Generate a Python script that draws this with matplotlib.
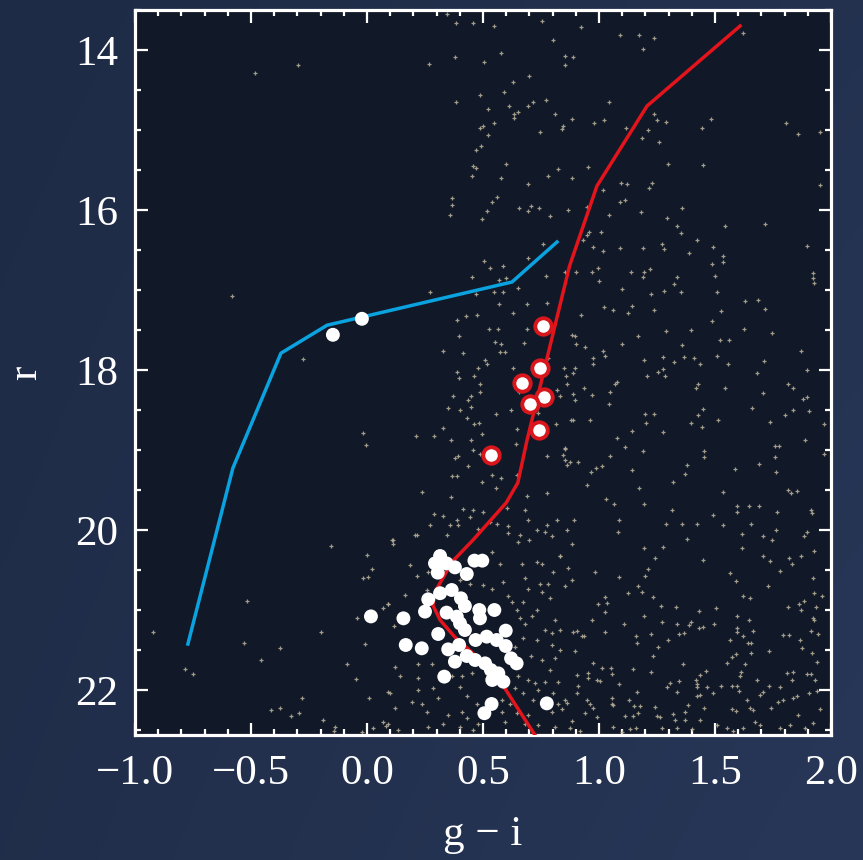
import numpy as np
import matplotlib
matplotlib.use("Agg")
import matplotlib.pyplot as plt
from matplotlib.ticker import MultipleLocator

# ---------------------------------------------------------------- data
# model isochrone (red giant branch + main-sequence turnoff)
iso_gi = [1.608, 1.207, 0.991, 0.873, 0.690, 0.650, 0.600, 0.457, 0.366,
          0.293, 0.284, 0.315, 0.379, 0.552, 0.750]
iso_r = [13.70, 14.70, 15.70, 16.70, 18.875, 19.41, 19.66, 20.125, 20.40,
         20.775, 20.94, 21.125, 21.34, 21.79, 22.68]

# horizontal-branch ridge line
hb_gi = [-0.772, -0.578, -0.371, -0.172, 0.625, 0.819]
hb_r = [21.425, 19.225, 17.79, 17.44, 16.90, 16.40]

# candidate horizontal-branch members
hb_star_gi = [-0.147, -0.022]
hb_star_r = [17.56, 17.36]

# spectroscopic red-giant members
rgb_gi = [0.759, 0.746, 0.668, 0.763, 0.703, 0.741, 0.534]
rgb_r = [17.45, 17.975, 18.16, 18.34, 18.43, 18.75, 19.06]

# photometric members near the turnoff
ms_gi = [0.315, 0.293, 0.343, 0.379, 0.305, 0.430, 0.463, 0.497, 0.264, 0.315,
         0.365, 0.405, 0.422, 0.343, 0.387, 0.250, 0.401, 0.484, 0.487, 0.549,
         0.157, 0.307, 0.422, 0.468, 0.516, 0.559, 0.598, 0.598, 0.167, 0.236,
         0.350, 0.397, 0.430, 0.379, 0.466, 0.509, 0.534, 0.621, 0.645, 0.333,
         0.540, 0.588, 0.566, 0.537, 0.506, 0.775, 0.017]
ms_r = [20.325, 20.417, 20.417, 20.467, 20.533, 20.55, 20.383, 20.383, 20.867, 20.79,
        20.75, 20.854, 20.95, 21.033, 21.083, 21.02, 21.167, 21.0, 21.104, 21.0,
        21.104, 21.3, 21.25, 21.375, 21.333, 21.375, 21.258, 21.45, 21.4375, 21.479,
        21.492, 21.4375, 21.575, 21.646, 21.625, 21.667, 21.75, 21.604, 21.667, 21.833,
        21.875, 21.896, 21.792, 22.175, 22.29, 22.167, 21.08]

# field stars (g-i, r)
field_stars = [
    # blue side
    (-0.483, 14.29), (-0.297, 14.19), (-0.582, 17.075), (-0.276, 17.86), (-0.017, 18.79),
    (-0.004, 18.94), (-0.924, 21.27), (-0.783, 21.74), (-0.749, 21.80), (-0.518, 20.89),
    (-0.529, 21.41), (-0.457, 21.63), (-0.375, 21.47), (-0.414, 22.25), (-0.375, 22.22),
    (-0.328, 22.33), (-0.292, 22.29), (-0.280, 22.10), (-0.189, 22.38), (-0.199, 21.28),
    (-0.155, 20.20), (0.000, 20.31), (0.021, 20.49), (-0.016, 20.60), (0.005, 20.59),
    (-0.041, 21.10), (-0.007, 21.43), (-0.088, 21.68), (-0.048, 21.86), (0.010, 22.10),
    (0.067, 20.98), (0.089, 20.93), (0.113, 20.12), (0.113, 20.17), (0.118, 21.20),
    (0.089, 22.03), (0.067, 22.40), (0.082, 22.45), (-0.137, 22.46), (0.024, 22.47),
    (-0.141, 22.51), (-0.023, 22.52),
    # bright, middle colours
    (0.343, 13.55), (0.384, 13.66), (0.458, 13.66), (0.549, 13.70), (0.756, 13.64),
    (0.922, 13.71), (1.090, 13.81), (0.803, 13.875), (0.269, 14.175), (0.379, 14.09),
    (0.504, 14.15), (0.576, 14.04), (0.853, 14.08), (0.886, 14.09), (0.853, 14.19),
    (0.628, 14.40), (0.700, 14.325), (0.384, 14.65), (0.487, 14.56), (0.592, 14.52),
    (0.523, 14.74), (0.613, 14.70), (0.693, 14.70), (0.714, 14.65), (0.770, 14.63),
    (0.635, 14.80), (0.649, 14.78), (0.634, 14.85), (0.810, 14.80), (0.885, 14.86),
    (1.043, 14.65), (0.980, 14.91), (1.023, 14.88), (0.487, 14.98), (0.501, 14.95),
    (0.549, 14.91), (0.520, 15.06), (0.843, 14.95), (0.839, 14.99), (0.746, 15.03),
    (1.116, 14.98), (0.470, 15.25), (0.490, 15.20), (0.598, 15.425), (0.455, 15.45),
    (0.470, 15.48), (0.453, 15.58), (0.576, 15.60), (0.692, 15.67), (0.782, 15.58),
    (0.825, 15.49), (0.882, 15.60), (0.954, 15.46), (1.093, 15.66), (1.119, 15.67),
    (0.365, 15.85), (0.365, 15.94), (0.358, 16.06), (0.537, 15.90), (0.562, 15.84),
    (0.519, 16.01), (0.494, 16.11), (0.657, 15.97), (0.705, 15.95), (0.692, 16.01),
    (0.743, 15.97), (0.789, 16.075), (0.868, 16.00), (0.947, 15.96), (1.016, 15.75),
    (1.090, 15.90), (1.112, 15.875), (1.044, 16.06), (0.757, 16.425), (0.695, 16.60),
    (0.506, 16.64), (0.530, 16.72), (0.585, 16.70), (0.454, 16.84), (0.569, 16.88),
    (0.599, 16.85), (0.770, 16.82), (0.853, 16.77), (0.649, 16.98), (0.549, 17.02),
    (0.588, 17.03), (0.468, 17.05), (0.271, 17.02), (0.959, 16.27),
    # bright, red colours
    (1.174, 13.81), (1.237, 13.85), (1.188, 13.99), (1.619, 13.79), (1.237, 14.80),
    (1.251, 14.88), (1.289, 14.895), (1.213, 15.00), (1.187, 15.10), (1.260, 15.15),
    (1.481, 14.86), (1.442, 14.97), (1.805, 14.91), (1.859, 15.05), (1.952, 15.02),
    (1.299, 15.425), (1.450, 15.44), (1.227, 15.66), (1.217, 15.72), (1.952, 15.69),
    (1.179, 16.03), (1.359, 15.98), (1.294, 16.10), (1.335, 16.20), (1.543, 16.20),
    (1.715, 16.18),
    (0.947, 16.31), (1.009, 16.28), (1.354, 16.29), (1.424, 16.38), (0.930, 16.375),
    (0.973, 16.46), (1.016, 16.51), (1.091, 16.48), (1.191, 16.47), (1.270, 16.42),
    (1.282, 16.49), (1.389, 16.54), (1.490, 16.46), (1.533, 16.57), (1.533, 16.65),
    (1.895, 16.45), (0.901, 16.78), (0.971, 16.77), (0.997, 16.73), (1.000, 16.89),
    (1.138, 16.78), (1.194, 16.78), (1.188, 16.84), (1.220, 16.74), (1.338, 16.84),
    (1.489, 16.68), (1.500, 16.82), (1.924, 16.79), (1.924, 16.85), (1.927, 16.91),
    (1.098, 16.99), (1.224, 17.05), (1.282, 17.01), (1.325, 16.93), (1.352, 17.03),
    (1.507, 17.03), (1.629, 17.14), (1.687, 17.125), (1.716, 17.24), (0.923, 17.31),
    (1.023, 17.21), (1.062, 17.25), (1.127, 17.29), (1.144, 17.20), (1.239, 17.25),
    (1.486, 17.39), (1.526, 17.26), (1.627, 17.49), (1.747, 17.54), (0.897, 17.575),
    (0.900, 17.68), (0.940, 17.71), (1.098, 17.675), (1.167, 17.57), (1.289, 17.51),
    (1.397, 17.50), (1.356, 17.69), (1.522, 17.625), (1.562, 17.625), (1.019, 17.76),
    (1.026, 17.825), (0.973, 17.85), (0.976, 17.93), (1.195, 17.88), (1.275, 17.84),
    (1.323, 17.90), (1.368, 17.84), (1.410, 17.85), (1.435, 17.93), (1.510, 17.82),
    (1.558, 17.92), (1.711, 17.89), (1.869, 17.76), (0.898, 17.98), (0.856, 18.07),
    (1.069, 18.17), (1.079, 18.15), (1.206, 18.07), (1.256, 18.03), (1.277, 17.99),
    (1.286, 18.075), (1.428, 18.17), (1.418, 18.22), (1.543, 18.22), (1.683, 18.04),
    (1.816, 18.18), (1.838, 18.22), (1.898, 18.00), (0.935, 18.22), (0.889, 18.30),
    (0.968, 18.31), (1.048, 18.27), (1.045, 18.42), (1.708, 18.29), (1.878, 18.36),
    (1.895, 18.34), (0.878, 18.63), (0.961, 18.625), (1.198, 18.55), (1.237, 18.55),
    (1.203, 18.66), (1.425, 18.56), (1.450, 18.49), (1.395, 18.66), (1.445, 18.71),
    (1.514, 18.63), (1.658, 18.47), (1.737, 18.65), (1.802, 18.56), (1.835, 18.50),
    (1.907, 18.51), (1.079, 18.85), (1.112, 18.96), (1.141, 18.76), (1.275, 18.77),
    (1.188, 19.01), (1.454, 19.01), (1.454, 19.09), (1.759, 18.95), (1.775, 18.95),
    (1.759, 19.09), (1.888, 18.87), (1.970, 18.67), (1.970, 19.05), (0.854, 18.99),
    (0.854, 19.125), (0.864, 19.19), (0.911, 19.15), (1.048, 19.08), (0.966, 19.27),
    (0.986, 19.22), (1.012, 19.20), (1.141, 19.25), (1.378, 19.19), (1.371, 19.30),
    (1.586, 19.24), (1.690, 19.18), (1.763, 19.28),
    # around the giant branch
    (0.569, 17.17), (0.688, 17.17), (0.774, 17.16), (0.386, 17.38), (0.427, 17.33),
    (0.473, 17.31), (0.631, 17.29), (0.527, 17.49), (0.566, 17.49), (0.688, 17.49),
    (0.552, 17.65), (0.576, 17.67), (0.573, 17.78), (0.595, 17.77), (0.678, 17.66),
    (0.398, 17.58), (0.329, 17.76), (0.412, 17.79), (0.509, 17.875), (0.516, 17.92),
    (0.480, 17.98), (0.386, 18.03), (0.397, 18.10), (0.463, 18.075), (0.487, 18.17),
    (0.447, 18.33), (0.437, 18.375), (0.447, 18.46), (0.372, 18.33), (0.348, 18.48),
    (0.401, 18.50), (0.487, 18.28), (0.432, 18.60), (0.463, 18.67), (0.481, 18.66),
    (0.556, 18.55), (0.619, 18.50), (0.645, 18.74), (0.736, 18.54), (0.817, 18.25),
    (0.832, 18.33), (0.861, 18.17), (0.897, 18.375), (0.886, 18.04), (0.882, 17.56),
    (0.782, 17.85), (0.849, 17.98), (0.631, 17.98), (0.657, 18.27), (0.326, 18.72),
    (0.211, 18.83), (0.290, 18.83), (0.362, 18.875), (0.447, 18.87), (0.496, 18.80),
    (0.391, 19.075), (0.379, 19.10), (0.458, 19.00), (0.487, 19.05), (0.642, 18.925),
    (0.853, 18.98), (0.815, 18.675), (0.889, 18.625), (0.875, 19.145), (0.846, 19.06),
    (0.774, 19.08), (0.389, 19.33), (0.365, 19.33), (0.437, 19.195), (0.497, 19.40),
    (0.537, 19.31), (0.576, 19.35), (0.556, 19.48), (0.645, 19.31), (0.774, 19.54),
    (0.236, 19.53), (0.361, 19.59), (0.688, 19.58),
    (0.290, 19.80), (0.329, 19.83), (0.386, 19.875), (0.444, 19.84), (0.415, 19.74),
    (0.458, 19.75), (0.498, 19.77), (0.271, 19.94), (0.358, 19.94), (0.394, 19.94),
    (0.480, 19.99), (0.530, 19.90), (0.559, 19.92), (0.602, 19.73), (0.681, 19.75),
    (0.695, 19.875), (0.609, 19.95), (0.659, 20.06), (0.731, 20.00), (0.774, 19.94),
    (0.767, 20.02), (0.817, 19.875), (0.796, 20.08), (0.860, 20.00), (0.343, 20.06),
    (0.214, 20.06),
    # turnoff region
    (0.106, 20.125), (0.207, 20.06), (0.609, 20.04), (0.652, 20.15), (0.698, 20.125),
    (0.832, 20.33), (0.731, 20.40), (0.753, 20.42), (0.667, 20.42), (0.573, 20.42),
    (0.537, 20.28), (0.803, 20.52), (0.185, 20.44), (0.264, 20.52), (0.257, 20.75),
    (0.214, 20.58), (0.401, 20.625), (0.444, 20.67), (0.501, 20.69), (0.537, 20.74),
    (0.588, 20.65), (0.681, 20.60), (0.746, 20.67), (0.782, 20.675), (0.695, 20.74),
    (0.753, 20.77), (0.609, 20.83), (0.624, 20.90), (0.674, 20.90), (0.789, 20.85),
    (0.092, 20.92), (0.164, 20.81), (0.645, 21.00), (0.731, 21.00), (0.660, 21.10),
    (0.710, 21.08), (0.681, 21.17), (0.810, 21.125), (0.767, 21.25), (0.796, 21.29),
    (0.832, 21.25), (0.731, 21.375), (0.674, 21.35), (0.638, 21.46), (0.796, 21.44),
    (0.832, 21.50), (0.707, 21.58), (0.753, 21.625), (0.810, 21.60), (0.121, 21.71),
    (0.221, 21.67), (0.279, 21.67), (0.789, 21.75), (0.142, 21.83), (0.221, 21.85),
    (0.365, 21.83), (0.408, 21.83), (0.451, 21.79), (0.652, 21.83), (0.695, 21.875),
    (0.724, 21.91), (0.767, 21.90), (0.825, 21.90), (0.221, 22.00), (0.286, 21.98),
    (0.401, 21.96), (0.638, 21.98), (0.674, 22.04), (0.739, 22.00), (0.803, 22.04),
    (0.099, 22.04), (0.307, 22.10), (0.430, 22.08), (0.473, 22.17), (0.580, 22.125),
    (0.616, 22.17), (0.717, 22.125), (0.825, 22.17), (0.193, 22.15), (0.236, 22.17),
    (0.121, 22.23), (0.257, 22.27), (0.351, 22.31), (0.408, 22.27), (0.430, 22.35),
    (0.580, 22.27), (0.645, 22.29), (0.695, 22.31), (0.796, 22.28), (0.092, 22.42),
    (0.135, 22.50), (0.264, 22.46), (0.329, 22.42), (0.401, 22.46), (0.480, 22.42),
    (0.458, 22.50), (0.595, 22.40), (0.681, 22.42), (0.739, 22.44), (0.810, 22.46),
    # faint, red colours
    (0.947, 19.44), (1.172, 19.47), (1.318, 19.40), (1.536, 19.53), (1.816, 19.50),
    (1.852, 19.51), (1.826, 19.54), (1.029, 19.61), (1.066, 19.68), (1.194, 19.67),
    (1.315, 19.75), (1.593, 19.70), (1.593, 19.77), (1.647, 19.70), (1.690, 19.70),
    (1.769, 19.78), (1.912, 19.75), (1.920, 19.79), (0.894, 19.88), (1.088, 19.87),
    (1.289, 19.92), (1.359, 19.92), (1.424, 19.92), (1.490, 19.81), (1.536, 19.94),
    (1.654, 19.93), (1.083, 20.03), (1.615, 20.05), (1.763, 20.00), (1.895, 20.03),
    (1.885, 20.08), (1.381, 20.11), (1.708, 20.08), (1.746, 20.12), (0.882, 20.17),
    (1.194, 20.23), (1.275, 20.21), (1.615, 20.22), (1.928, 20.26), (1.241, 20.35),
    (1.447, 20.38), (1.708, 20.33), (1.737, 20.39), (1.819, 20.35), (1.833, 20.43),
    (1.871, 20.32), (0.832, 20.33), (0.868, 20.47), (0.983, 20.52), (1.213, 20.49),
    (1.780, 20.51), (1.565, 20.54), (1.198, 20.575), (1.088, 20.59), (1.921, 20.60),
    (0.882, 20.63), (0.852, 20.70), (1.167, 20.70), (1.589, 20.64), (1.727, 20.70),
    (1.124, 20.79), (1.184, 20.78), (1.234, 20.84), (1.027, 20.84), (0.994, 20.93),
    (1.035, 20.91), (1.269, 20.95), (1.333, 20.96), (1.503, 20.97), (1.619, 20.82),
    (1.651, 20.85), (1.816, 20.96), (1.864, 20.93), (1.884, 20.89), (1.927, 20.79),
    (1.960, 20.83), (1.871, 21.00), (1.934, 20.96), (1.433, 21.01), (1.027, 21.02),
    (0.971, 21.12), (1.109, 21.17), (1.196, 21.08), (1.273, 21.15), (1.335, 21.18),
    (1.395, 21.15), (1.389, 21.19), (1.430, 21.22), (1.447, 21.21), (1.497, 21.18),
    (1.593, 21.08), (1.648, 21.12), (1.924, 21.10), (1.928, 21.125), (0.889, 21.28),
    (0.907, 21.26), (0.935, 21.325), (0.925, 21.33), (1.027, 21.27), (1.160, 21.325),
    (1.224, 21.30), (1.346, 21.305), (1.366, 21.29), (1.593, 21.23), (1.596, 21.28),
    (1.619, 21.33), (1.662, 21.26), (1.792, 21.31), (1.818, 21.31), (1.912, 21.26),
    (1.945, 21.30), (1.299, 21.38), (1.165, 21.41), (1.256, 21.46), (1.565, 21.375),
    (1.641, 21.41), (1.654, 21.41), (1.867, 21.375), (0.895, 21.51), (1.234, 21.58),
    (1.364, 21.67), (1.591, 21.55), (1.550, 21.66), (1.629, 21.67), (1.572, 21.59),
    (1.654, 21.54), (1.734, 21.51), (1.877, 21.48), (1.920, 21.54), (1.938, 21.65),
    (0.976, 21.66), (1.012, 21.73), (1.050, 21.72), (1.145, 21.74), (1.226, 21.77),
    (0.904, 21.81), (0.951, 21.79), (0.993, 21.875), (1.004, 21.89), (1.055, 21.80),
    (1.088, 21.925), (0.954, 21.85), (1.461, 21.76), (1.435, 21.81), (1.418, 21.87),
    (1.424, 21.925), (1.424, 21.96), (1.343, 21.89), (1.306, 21.91), (1.292, 21.96),
    (1.335, 22.02), (1.165, 22.025), (0.911, 21.95), (0.904, 22.04), (1.464, 21.96),
    (1.525, 21.95), (1.490, 22.04), (1.572, 21.95), (1.593, 21.95), (1.611, 21.78),
    (1.608, 21.83), (1.604, 22.01), (1.680, 21.87), (1.734, 21.95), (1.780, 21.96),
    (1.809, 21.79), (1.835, 21.78), (1.832, 21.875), (1.895, 21.80), (1.912, 21.80),
    (1.933, 21.87), (1.706, 22.025), (1.694, 22.06), (1.907, 22.04), (1.941, 22.01),
    (0.854, 22.13), (0.861, 22.16), (0.947, 22.125), (0.961, 22.17), (0.976, 22.23),
    (1.055, 22.17), (1.055, 22.10), (1.062, 22.19), (1.131, 22.13), (1.151, 22.20),
    (1.177, 22.20), (1.170, 22.29), (1.241, 22.21), (1.382, 22.19), (1.371, 22.27),
    (1.453, 22.23), (1.435, 22.06), (1.421, 22.075), (1.572, 22.24), (1.591, 22.26),
    (1.637, 22.13), (1.651, 22.23), (1.662, 22.25), (1.741, 22.23), (1.773, 22.15),
    (1.795, 22.125), (1.838, 22.10), (1.852, 22.08), (1.953, 22.24), (0.839, 22.24),
    (0.882, 22.39), (0.940, 22.29), (0.990, 22.34), (1.112, 22.33), (1.148, 22.325),
    (1.249, 22.33), (1.263, 22.34), (1.320, 22.30), (1.328, 22.375), (1.371, 22.37),
    (1.435, 22.37), (1.507, 22.44), (1.550, 22.48), (1.579, 22.51), (1.619, 22.47),
    (1.673, 22.40), (1.694, 22.44), (1.780, 22.48), (1.823, 22.44), (1.856, 22.31),
    (1.888, 22.48), (1.924, 22.41), (0.875, 22.48), (0.918, 22.51), (1.062, 22.46),
    (1.098, 22.52), (1.134, 22.49), (1.160, 22.48), (1.270, 22.48), (1.335, 22.48),
    (1.400, 22.49),
]

x_ticks = [-1.0, -0.5, 0.0, 0.5, 1.0, 1.5, 2.0]
y_ticks = [14, 16, 18, 20, 22]

# ---------------------------------------------------------------- style
FONT = ["Liberation Serif", "DejaVu Serif"]
plt.rcParams["font.family"] = FONT
plt.rcParams["axes.unicode_minus"] = True

W, H = 863, 860
fig = plt.figure(figsize=(W / 100, H / 100), dpi=100)
fig.patch.set_facecolor("#1f2c47")

# slide-style backdrop with a gentle gradient
bg = fig.add_axes([0, 0, 1, 1], zorder=-10)
gx = np.linspace(0, 1, 200)[None, :]
gy = np.linspace(0, 1, 200)[:, None]
base = np.array([30, 43, 70]) / 255.0
light = np.array([40, 55, 88]) / 255.0
t = np.clip(0.55 * gx + 0.25 * gy + 0.2 * (gx * gy), 0, 1)[..., None]
bg.imshow(base * (1 - t) + light * t, aspect="auto", extent=[0, 1, 0, 1],
          interpolation="bicubic")
bg.set_axis_off()

ax = fig.add_axes([135 / W, 1 - 735 / H, (831 - 135) / W, (735 - 10) / H])
ax.set_facecolor("#111828")

# field stars
fgi, fr = zip(*field_stars)
ax.plot(fgi, fr, linestyle="none", marker="+", ms=3.2, mew=0.9,
        color="#b3ab95", alpha=0.9, zorder=2)

# ridge lines
ax.plot(hb_gi, hb_r, color="#0aa3e0", lw=2.5, solid_joinstyle="miter", zorder=3)
ax.plot(iso_gi, iso_r, color="#e3141b", lw=2.5, solid_joinstyle="miter", zorder=3)

# members
ax.scatter(ms_gi, ms_r, s=100, color="white", edgecolors="none", zorder=4)
ax.scatter(hb_star_gi, hb_star_r, s=100, color="white", edgecolors="none", zorder=4)
ax.scatter(rgb_gi, rgb_r, s=140, facecolor="white", edgecolors="#d8161c",
           linewidths=2.8, zorder=5)

ax.set_xlim(-1.0, 2.0)
ax.set_ylim(22.5625, 13.5)

ax.set_xticks(x_ticks)
ax.set_xticklabels([f"{v:.1f}".replace("-", "\u2212") for v in x_ticks])
ax.set_yticks(y_ticks)
ax.set_yticklabels([str(v) for v in y_ticks])
ax.xaxis.set_minor_locator(MultipleLocator(0.1))
ax.yaxis.set_minor_locator(MultipleLocator(0.5))

ax.tick_params(which="both", direction="in", top=True, right=True,
               color="white", labelcolor="white", labelsize=31)
ax.tick_params(which="major", length=9, width=1.6)
ax.tick_params(which="minor", length=4.5, width=1.6)
ax.tick_params(axis="x", pad=14)
ax.tick_params(axis="y", pad=12)
for s in ax.spines.values():
    s.set_color("white")
    s.set_linewidth(2.3)

ax.set_xlabel("g \u2212 i", color="white", fontsize=31, labelpad=16)
ax.set_ylabel("r", color="white", fontsize=31, labelpad=22)

fig.savefig("out.png", dpi=100, facecolor=fig.get_facecolor())
